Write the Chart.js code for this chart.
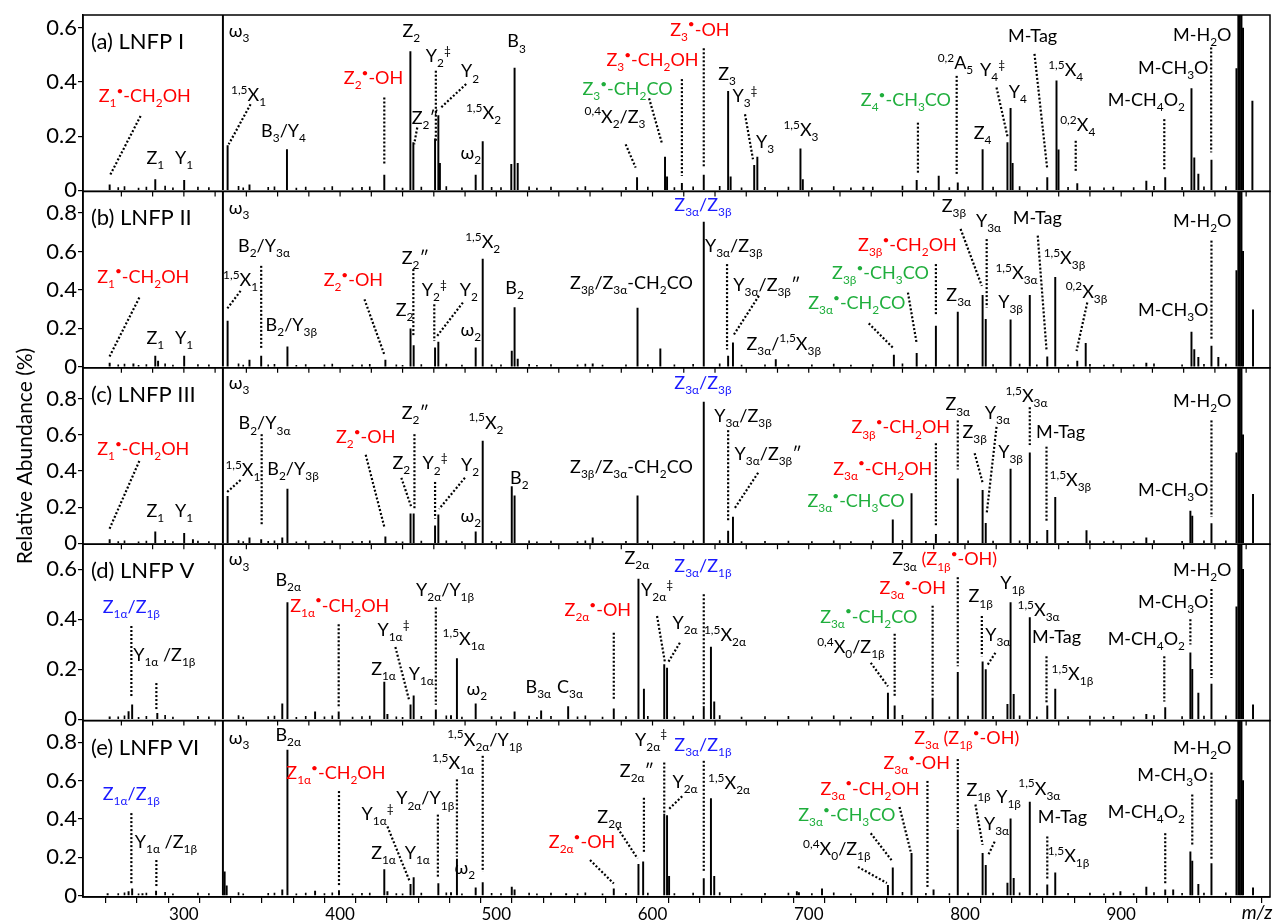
<!DOCTYPE html>
<html>
<head>
<meta charset="utf-8">
<script src="https://cdn.jsdelivr.net/npm/chart.js@4.4.0/dist/chart.umd.min.js"></script>
<style>
  html, body { margin: 0; padding: 0; background: #fff; }
  canvas { display: block; }
</style>
</head>
<body>
<canvas id="spectra" width="1274" height="923"></canvas>
<script>
// peak lists, m/z and relative abundance (%), one pair per panel
const mzA = [252.5, 281.7, 300.2, 325.0, 328.0, 342.0, 366.0, 428.3, 445.0, 446.9, 460.8, 462.9, 463.9, 486.8, 491.3, 509.6, 511.7, 513.7, 590.1, 608.0, 609.3, 618.8, 632.8, 648.4, 650.0, 665.1, 667.1, 694.7, 696.2, 735.0, 769.1, 783.2, 795.4, 811.3, 827.2, 829.2, 830.5, 852.7, 858.6, 859.9, 871.9, 916.1, 928.2, 945.0, 946.8, 949.4, 957.8, 973.8, 975.0, 976.0, 977.0, 978.0, 984.0];
const abA = [0.020, 0.040, 0.037, 1.5, 0.165, 0.020, 0.151, 0.056, 0.513, 0.176, 0.190, 0.276, 0.100, 0.056, 0.180, 0.096, 0.452, 0.100, 0.047, 0.123, 0.050, 0.026, 0.056, 0.366, 0.050, 0.092, 0.123, 0.153, 0.040, 0.012, 0.037, 0.053, 0.028, 0.151, 0.176, 0.303, 0.100, 0.047, 0.405, 0.150, 0.025, 0.034, 0.047, 0.376, 0.120, 0.060, 0.112, 0.450, 1.5, 1.5, 1.5, 0.600, 0.330];

const mzB = [252.5, 267.7, 281.7, 283.5, 300.2, 325.0, 328.0, 342.0, 349.5, 366.3, 429.0, 445.1, 447.1, 460.8, 462.9, 486.8, 491.3, 509.9, 511.7, 513.7, 561.7, 590.4, 605.0, 632.8, 648.4, 651.5, 678.9, 754.5, 769.1, 781.4, 795.4, 811.3, 813.3, 829.2, 841.5, 852.7, 857.8, 871.9, 877.3, 916.1, 945.0, 946.8, 949.4, 957.8, 962.2, 973.8, 975.0, 976.0, 977.0, 978.0, 984.4];
const abB = [0.020, 0.015, 0.056, 0.030, 0.056, 1.5, 0.238, 0.035, 0.056, 0.104, 0.035, 0.198, 0.111, 0.099, 0.129, 0.099, 0.560, 0.082, 0.308, 0.040, 0.015, 0.305, 0.094, 0.752, 0.056, 0.125, 0.038, 0.061, 0.070, 0.212, 0.285, 0.372, 0.247, 0.244, 0.372, 0.052, 0.465, 0.030, 0.122, 0.020, 0.181, 0.090, 0.050, 0.108, 0.050, 0.500, 1.5, 1.5, 1.5, 0.600, 0.296];

const mzC = [252.5, 281.7, 300.2, 305.8, 325.0, 328.0, 342.0, 349.5, 363.0, 366.3, 429.0, 445.1, 447.1, 460.8, 462.9, 486.8, 491.3, 509.9, 511.7, 561.7, 590.4, 632.8, 648.4, 651.5, 753.8, 765.8, 781.4, 795.4, 811.3, 813.3, 829.2, 841.5, 852.7, 857.8, 877.8, 916.1, 944.3, 945.5, 957.8, 973.8, 975.0, 976.0, 977.0, 978.0, 984.4];
const abC = [0.020, 0.064, 0.055, 0.020, 1.5, 0.260, 0.030, 0.020, 0.030, 0.300, 0.036, 0.163, 0.163, 0.096, 0.158, 0.063, 0.565, 0.313, 0.263, 0.030, 0.263, 0.780, 0.067, 0.145, 0.130, 0.275, 0.050, 0.357, 0.293, 0.110, 0.410, 0.500, 0.072, 0.254, 0.070, 0.030, 0.178, 0.150, 0.109, 0.500, 1.5, 1.5, 1.5, 0.600, 0.270];

const mzD = [252.5, 264.6, 266.9, 283.0, 325.0, 363.0, 366.3, 384.0, 399.1, 428.3, 430.3, 445.1, 447.1, 461.3, 471.0, 474.8, 486.8, 511.7, 528.7, 546.0, 575.2, 591.0, 594.5, 607.5, 609.3, 632.8, 637.4, 639.5, 750.7, 755.0, 779.3, 795.4, 811.3, 813.3, 827.2, 829.2, 831.2, 841.5, 852.7, 857.8, 916.1, 928.2, 944.3, 945.5, 949.4, 957.8, 973.8, 975.0, 976.0, 977.0, 978.0, 984.4];
const abD = [0.010, 0.031, 0.058, 0.024, 1.5, 0.062, 0.467, 0.030, 0.030, 0.149, 0.020, 0.058, 0.094, 0.038, 0.015, 0.243, 0.062, 0.030, 0.034, 0.051, 0.042, 0.561, 0.121, 0.219, 0.205, 0.051, 0.289, 0.070, 0.105, 0.054, 0.085, 0.188, 0.230, 0.199, 0.060, 0.467, 0.100, 0.407, 0.054, 0.121, 0.020, 0.047, 0.266, 0.200, 0.105, 0.141, 0.450, 1.5, 1.5, 1.5, 0.600, 0.058];

const mzE = [251.2, 264.6, 266.9, 273.5, 282.2, 325.0, 326.1, 327.4, 363.0, 366.3, 384.0, 399.3, 428.3, 430.3, 445.1, 447.1, 462.9, 471.0, 474.8, 486.8, 491.3, 509.9, 511.7, 544.7, 575.2, 591.0, 594.0, 607.5, 609.3, 610.6, 632.8, 637.4, 639.5, 692.4, 693.7, 708.5, 750.7, 753.8, 765.8, 779.9, 795.4, 811.3, 813.3, 827.2, 829.2, 831.2, 841.5, 852.7, 857.8, 899.5, 916.1, 928.2, 933.3, 944.3, 945.5, 949.4, 957.8, 973.8, 975.0, 976.0, 977.0, 978.0, 984.4];
const abE = [0.010, 0.020, 0.035, 0.010, 0.023, 1.5, 0.123, 0.050, 0.030, 0.759, 0.023, 0.026, 0.135, 0.020, 0.058, 0.093, 0.062, 0.015, 0.190, 0.040, 0.067, 0.044, 0.030, 0.010, 0.035, 0.163, 0.176, 0.425, 0.417, 0.100, 0.088, 0.506, 0.100, 0.020, 0.015, 0.035, 0.053, 0.144, 0.220, 0.030, 0.343, 0.220, 0.158, 0.065, 0.400, 0.090, 0.487, 0.056, 0.118, 0.020, 0.044, 0.030, 0.030, 0.228, 0.180, 0.058, 0.167, 0.500, 1.5, 1.5, 1.5, 0.600, 0.040];

// low-level baseline peaks common to all spectra
const grassMz = [258, 262, 271, 276, 288, 293, 309, 316, 335, 338, 354, 358, 372, 378, 390, 395, 408, 414, 419, 436, 440, 452, 468, 478, 497, 503, 521, 526, 535, 552, 557, 568, 583, 597, 614, 626, 643, 657, 672, 687, 702, 716, 727, 741, 760, 775, 790, 802, 818, 835, 846, 866, 880, 889, 895, 908, 921, 939, 953, 967];
const grassAb = [0.010, 0.014, 0.008, 0.012, 0.016, 0.009, 0.012, 0.010, 0.015, 0.009, 0.011, 0.013, 0.008, 0.012, 0.010, 0.014, 0.009, 0.011, 0.013, 0.010, 0.008, 0.012, 0.014, 0.009, 0.011, 0.010, 0.013, 0.008, 0.012, 0.010, 0.014, 0.009, 0.011, 0.012, 0.010, 0.013, 0.015, 0.009, 0.011, 0.012, 0.010, 0.014, 0.009, 0.012, 0.016, 0.011, 0.010, 0.013, 0.012, 0.014, 0.010, 0.011, 0.013, 0.009, 0.012, 0.010, 0.015, 0.011, 0.013, 0.014];

const yTicksA = [0, 0.2, 0.4, 0.6];
const yTicks8 = [0, 0.2, 0.4, 0.6, 0.8];
const xLabels = [300, 400, 500, 600, 700, 800, 900];
const titles = ['(a) LNFP I', '(b) LNFP II', '(c) LNFP III', '(d) LNFP V', '(e) LNFP VI'];

// annotations: [text, m/z, abundance, colour, leader [mz1, ab1, mz2, ab2], align]
const labelsA = [
  ['ω_{3}', 328.7, 0.565, 'k', null, 'L'],
  ['Z_{1}^{•}-CH_{2}OH', 275, 0.327, 'r', [272.3, 0.275, 252.5, 0.053]],
  ['Z_{1}', 281.7, 0.096, 'k'],
  ['Y_{1}', 300.2, 0.096, 'k'],
  ['^{1,5}X_{1}', 341.4, 0.331, 'k', [342.7, 0.318, 328.7, 0.17]],
  ['B_{3}/Y_{4}', 363.8, 0.198, 'k'],
  ['Z_{2}^{•}-OH', 421.4, 0.393, 'r', [428.3, 0.343, 428.3, 0.096]],
  ['Z_{2}', 445.6, 0.565, 'k'],
  ['Z_{2}″', 454.5, 0.244, 'k', [449.4, 0.232, 447.4, 0.17]],
  ['Y_{2}^{‡}', 462.9, 0.473, 'k', [461.3, 0.442, 461.3, 0.183]],
  ['Y_{2}', 483.2, 0.417, 'k', [480.7, 0.393, 463.9, 0.302]],
  ['^{1,5}X_{2}', 491.8, 0.263, 'k'],
  ['ω_{2}', 483.7, 0.115, 'k'],
  ['B_{3}', 513, 0.528, 'k'],
  ['^{0,4}X_{2}/Z_{3}', 576, 0.25, 'k', [582.8, 0.17, 589.2, 0.084]],
  ['Z_{3}^{•}-CH_{2}CO', 584, 0.352, 'g', [597.8, 0.34, 606.2, 0.17]],
  ['Z_{3}^{•}-CH_{2}OH', 600, 0.46, 'r', [618.8, 0.411, 618.8, 0.053]],
  ['Z_{3}^{•}-OH', 630.3, 0.572, 'r', [632.8, 0.525, 632.8, 0.084]],
  ['Z_{3}', 647.7, 0.409, 'k'],
  ['Y_{3}^{‡}', 659.2, 0.325, 'k', [659.2, 0.281, 664.3, 0.115]],
  ['Y_{3}', 672, 0.158, 'k'],
  ['^{1,5}X_{3}', 695, 0.201, 'k'],
  ['Z_{4}^{•}-CH_{3}CO', 762.2, 0.312, 'g', [769.9, 0.25, 769.9, 0.065]],
  ['^{0,2}A_{5}', 793.9, 0.448, 'k', [794.7, 0.423, 794.7, 0.059]],
  ['Z_{4}', 811.3, 0.189, 'k'],
  ['Y_{4}^{‡}', 817.7, 0.423, 'k', [820.2, 0.38, 827.2, 0.2]],
  ['Y_{4}', 833.8, 0.343, 'k'],
  ['M-Tag', 843.3, 0.547, 'k', [844.5, 0.504, 852.7, 0.078]],
  ['^{1,5}X_{4}', 864.5, 0.423, 'k'],
  ['^{0,2}X_{4}', 872.2, 0.22, 'k', [870.9, 0.183, 870.9, 0.065]],
  ['M-CH_{4}O_{2}', 916.1, 0.312, 'k', [927.6, 0.263, 927.6, 0.072]],
  ['M-CH_{3}O', 933.3, 0.43, 'k'],
  ['M-H_{2}O', 951.9, 0.553, 'k', [957.6, 0.528, 957.6, 0.14]]
];
const labelsB = [
  ['ω_{3}', 328.7, 0.795, 'k', null, 'L'],
  ['Z_{1}^{•}-CH_{2}OH', 274, 0.438, 'r', [271.5, 0.36, 252, 0.047]],
  ['Z_{1}', 281.7, 0.117, 'k'],
  ['Y_{1}', 300.2, 0.117, 'k'],
  ['^{1,5}X_{1}', 336.3, 0.421, 'k', [336.3, 0.395, 327.4, 0.299]],
  ['B_{2}/Y_{3α}', 351.3, 0.595, 'k', [349.5, 0.525, 349.5, 0.09]],
  ['B_{2}/Y_{3β}', 368.8, 0.186, 'k'],
  ['Z_{2}^{•}-OH', 408.5, 0.421, 'r', [415.6, 0.351, 428.3, 0.064]],
  ['Z_{2}″', 448.1, 0.534, 'k', [446.9, 0.508, 446.9, 0.16]],
  ['Z_{2}', 441.3, 0.264, 'k'],
  ['Y_{2}^{‡}', 460.3, 0.369, 'k', [460.3, 0.325, 460.3, 0.134]],
  ['Y_{2}', 482.4, 0.369, 'k', [478.6, 0.334, 462.1, 0.16]],
  ['^{1,5}X_{2}', 491.3, 0.616, 'k'],
  ['ω_{2}', 483.7, 0.16, 'k'],
  ['B_{2}', 511.7, 0.377, 'k'],
  ['Z_{3β}/Z_{3α}-CH_{2}CO', 586.5, 0.403, 'k'],
  ['Z_{3α}/Z_{3β}', 632.3, 0.812, 'b'],
  ['Y_{3α}/Z_{3β}', 652, 0.595, 'k', [647.7, 0.534, 647.7, 0.09]],
  ['Y_{3α}/Z_{3β}″', 673.2, 0.395, 'k', [668.1, 0.369, 651.5, 0.16]],
  ['Z_{3α}/^{1,5}X_{3β}', 684, 0.09, 'k'],
  ['Z_{3β}^{•}-CH_{2}OH', 763.2, 0.603, 'r', [781.4, 0.534, 781.4, 0.264]],
  ['Z_{3β}^{•}-CH_{3}CO', 745.9, 0.456, 'g', [763.5, 0.386, 769.1, 0.122]],
  ['Z_{3α}^{•}-CH_{2}CO', 730.8, 0.299, 'g', [738.4, 0.226, 753.8, 0.1]],
  ['Z_{3α}', 796, 0.343, 'k'],
  ['Z_{3β}', 792.9, 0.803, 'k', [797.2, 0.717, 810.8, 0.421]],
  ['Y_{3α}', 815.1, 0.725, 'k', [813.9, 0.664, 813.9, 0.308]],
  ['M-Tag', 846.3, 0.743, 'k', [846.6, 0.682, 852.2, 0.09]],
  ['^{1,5}X_{3α}', 833, 0.456, 'k'],
  ['Y_{3β}', 829.2, 0.308, 'k'],
  ['^{1,5}X_{3β}', 863.7, 0.534, 'k'],
  ['^{0,2}X_{3β}', 877.8, 0.36, 'k', [878.3, 0.334, 871.4, 0.082]],
  ['M-CH_{3}O', 933.3, 0.264, 'k'],
  ['M-H_{2}O', 951.9, 0.725, 'k', [957.8, 0.656, 957.8, 0.143]]
];
const labelsC = [
  ['ω_{3}', 328.7, 0.851, 'k', null, 'L'],
  ['Z_{1}^{•}-CH_{2}OH', 274, 0.489, 'r', [271.5, 0.455, 252, 0.072]],
  ['Z_{1}', 281.7, 0.145, 'k'],
  ['Y_{1}', 300.2, 0.145, 'k'],
  ['^{1,5}X_{1}', 337.8, 0.371, 'k', [336.3, 0.35, 327.4, 0.281]],
  ['B_{2}/Y_{3α}', 351.6, 0.629, 'k', [349.8, 0.603, 349.8, 0.1]],
  ['B_{2}/Y_{3β}', 369.9, 0.375, 'k'],
  ['Z_{2}^{•}-OH', 416.4, 0.553, 'r', [416.4, 0.489, 428.3, 0.091]],
  ['Z_{2}″', 448.1, 0.688, 'k', [447.6, 0.603, 447.6, 0.194]],
  ['Z_{2}', 439.2, 0.411, 'k', [439.2, 0.362, 445.6, 0.2]],
  ['Y_{2}^{‡}', 460.8, 0.408, 'k', [460.8, 0.339, 460.8, 0.136]],
  ['Y_{2}', 483.2, 0.399, 'k', [479.9, 0.362, 463.4, 0.19]],
  ['^{1,5}X_{2}', 493.4, 0.634, 'k'],
  ['ω_{2}', 483.7, 0.118, 'k'],
  ['B_{2}', 514.7, 0.326, 'k'],
  ['Z_{3β}/Z_{3α}-CH_{2}CO', 586.5, 0.39, 'k'],
  ['Z_{3α}/Z_{3β}', 632.3, 0.851, 'b'],
  ['Y_{3α}/Z_{3β}', 657.9, 0.67, 'k', [648.4, 0.625, 648.4, 0.118]],
  ['Y_{3α}/Z_{3β}″', 674, 0.462, 'k', [667.6, 0.39, 652.3, 0.19]],
  ['Z_{3β}^{•}-CH_{2}OH', 758.9, 0.607, 'r', [781.4, 0.553, 781.4, 0.1]],
  ['Z_{3α}^{•}-CH_{2}OH', 747.4, 0.38, 'r'],
  ['Z_{3α}^{•}-CH_{3}CO', 730.3, 0.199, 'g'],
  ['Z_{3α}', 795.4, 0.734, 'k', [795.4, 0.679, 795.4, 0.408]],
  ['Z_{3β}', 806.2, 0.58, 'k', [806.2, 0.498, 811.3, 0.335]],
  ['Y_{3α}', 820.8, 0.688, 'k', [820.2, 0.643, 813.9, 0.163]],
  ['^{1,5}X_{3α}', 839.4, 0.779, 'k', [841.5, 0.752, 841.5, 0.543]],
  ['Y_{3β}', 829.2, 0.471, 'k'],
  ['M-Tag', 861.2, 0.58, 'k', [852.2, 0.534, 852.2, 0.118]],
  ['^{1,5}X_{3β}', 867.5, 0.317, 'k'],
  ['M-CH_{3}O', 933.3, 0.263, 'k'],
  ['M-H_{2}O', 951.9, 0.752, 'k', [957.8, 0.679, 957.8, 0.145]]
];
const labelsD = [
  ['ω_{3}', 328.7, 0.615, 'k', null, 'L'],
  ['Z_{1α}/Z_{1β}', 266.4, 0.427, 'b', [266.4, 0.373, 266.4, 0.091]],
  ['Y_{1α} /Z_{1β}', 287.5, 0.235, 'k', [282.4, 0.145, 282.4, 0.038]],
  ['B_{2α}', 366.8, 0.534, 'k'],
  ['Z_{1α}^{•}-CH_{2}OH', 399.8, 0.431, 'r', [399.1, 0.38, 399.1, 0.044]],
  ['Y_{1α}^{‡}', 434.2, 0.333, 'k', [435.4, 0.289, 444.3, 0.074]],
  ['Z_{1α}', 427.8, 0.179, 'k'],
  ['Y_{1α}', 452, 0.158, 'k'],
  ['Y_{2α}/Y_{1β}', 467.2, 0.494, 'k', [461.3, 0.447, 461.3, 0.058]],
  ['^{1,5}X_{1α}', 479.1, 0.299, 'k'],
  ['ω_{2}', 487.5, 0.098, 'k'],
  ['B_{3α}', 526.9, 0.105, 'k'],
  ['C_{3α}', 547.2, 0.105, 'k'],
  ['Z_{2α}^{•}-OH', 565, 0.413, 'r', [575.2, 0.346, 575.2, 0.078]],
  ['Z_{2α}', 590, 0.621, 'k'],
  ['Y_{2α}^{‡}', 602.9, 0.494, 'k', [602.9, 0.413, 608, 0.226]],
  ['Y_{2α}', 620.8, 0.36, 'k', [617.5, 0.306, 609.8, 0.226]],
  ['Z_{3α}/Z_{1β}', 632.3, 0.588, 'b', [632.8, 0.5, 632.8, 0.051]],
  ['^{1,5}X_{2α}', 646.4, 0.313, 'k'],
  ['^{0,4}X_{0}/Z_{1β}', 727, 0.266, 'k', [739.7, 0.226, 750.7, 0.132]],
  ['Z_{3α}^{•}-CH_{2}CO', 738.4, 0.387, 'g', [755, 0.342, 755, 0.091]],
  ['Z_{3α}^{•}-OH', 766.6, 0.501, 'r', [779.3, 0.454, 779.3, 0.095]],
  ['Z_{3α} ~r(Z_{1β}^{•}-OH)', 787, 0.615, 'k', [795.4, 0.568, 795.4, 0.212]],
  ['Z_{1β}', 810, 0.467, 'k', [810.8, 0.413, 810.8, 0.252]],
  ['Y_{3α}', 821, 0.313, 'k', [819.5, 0.266, 814.6, 0.219]],
  ['Y_{1β}', 830.5, 0.521, 'k'],
  ['^{1,5}X_{3α}', 847.1, 0.413, 'k'],
  ['M-Tag', 858.6, 0.306, 'k', [852.2, 0.252, 852.2, 0.064]],
  ['^{1,5}X_{1β}', 868.8, 0.158, 'k'],
  ['M-CH_{4}O_{2}', 916.1, 0.299, 'k', [927.6, 0.252, 927.6, 0.071]],
  ['M-CH_{3}O', 933.3, 0.447, 'k', [944.3, 0.4, 944.3, 0.299]],
  ['M-H_{2}O', 951.9, 0.574, 'k', [957.8, 0.521, 957.8, 0.165]]
];
const labelsE = [
  ['ω_{3}', 328.7, 0.79, 'k', null, 'L'],
  ['B_{2α}', 366.8, 0.808, 'k'],
  ['Z_{1α}/Z_{1β}', 266.4, 0.5, 'b', [266.4, 0.43, 266.4, 0.062]],
  ['Y_{1α} /Z_{1β}', 288.5, 0.246, 'k', [282.4, 0.185, 282.4, 0.047]],
  ['Z_{1α}^{•}-CH_{2}OH', 397.3, 0.606, 'r', [399.3, 0.545, 399.3, 0.053]],
  ['Y_{1α}^{‡}', 424, 0.395, 'k', [430.3, 0.36, 444.3, 0.079]],
  ['Y_{2α}/Y_{1β}', 454.5, 0.475, 'k', [462.6, 0.422, 462.6, 0.088]],
  ['Z_{1α}', 427.8, 0.193, 'k'],
  ['Y_{1α}', 449.4, 0.193, 'k'],
  ['^{1,5}X_{1α}', 472.3, 0.659, 'k', [474.8, 0.606, 474.8, 0.202]],
  ['^{1,5}X_{2α}/Y_{1β}', 492.6, 0.782, 'k', [491.3, 0.729, 491.3, 0.123]],
  ['ω_{2}', 479.9, 0.114, 'k'],
  ['Z_{2α}^{•}-OH', 554.9, 0.246, 'r', [560, 0.185, 575.2, 0.062]],
  ['Z_{2α}', 572.6, 0.378, 'k', [577.7, 0.351, 590.4, 0.193]],
  ['Z_{2α}″', 590, 0.62, 'k', [594.5, 0.51, 594.5, 0.22]],
  ['Y_{2α}^{‡}', 599.1, 0.782, 'k', [607.5, 0.694, 607.5, 0.431]],
  ['Y_{2α}', 620.8, 0.562, 'k', [619, 0.518, 610.1, 0.448]],
  ['Z_{3α}/Z_{1β}', 632.3, 0.756, 'b', [632.8, 0.703, 632.8, 0.123]],
  ['^{1,5}X_{2α}', 649, 0.554, 'k'],
  ['Z_{3α} (Z_{1β}^{•}-OH)', 801.1, 0.79, 'r', [795.4, 0.712, 795.4, 0.351]],
  ['Z_{3α}^{•}-OH', 769.1, 0.659, 'r', [776, 0.598, 776, 0.044]],
  ['Z_{3α}^{•}-CH_{2}OH', 739.2, 0.527, 'r', [758.1, 0.462, 765.3, 0.228]],
  ['Z_{3α}^{•}-CH_{3}CO', 724.4, 0.387, 'g', [739.7, 0.325, 753.8, 0.176]],
  ['^{0,4}X_{0}/Z_{1β}', 718, 0.211, 'k', [731.5, 0.149, 750, 0.065]],
  ['Z_{1β}', 808.7, 0.518, 'k', [806.7, 0.475, 811.3, 0.264]],
  ['Y_{3α}', 820.2, 0.343, 'k', [819, 0.281, 814.6, 0.206]],
  ['Y_{1β}', 827.9, 0.483, 'k'],
  ['^{1,5}X_{3α}', 847.6, 0.527, 'k'],
  ['M-Tag', 862.4, 0.378, 'k', [852.7, 0.308, 852.7, 0.088]],
  ['^{1,5}X_{1β}', 866.3, 0.176, 'k'],
  ['M-CH_{4}O_{2}', 916.1, 0.404, 'k', [928.2, 0.325, 928.2, 0.062]],
  ['M-CH_{3}O', 932.8, 0.598, 'k', [945.5, 0.527, 945.5, 0.264]],
  ['M-H_{2}O', 951.9, 0.738, 'k', [957.8, 0.641, 957.8, 0.185]]
];

const FONT = 'Lato, "DejaVu Sans", sans-serif';
const COLORS = { k: '#000000', r: '#ff0000', g: '#1fae3c', b: '#1a1aff' };

// top to bottom
const panels = [
  { id: 'ya', mz: mzA, ab: abA, min: -0.004, max: 0.648, ticks: yTicksA, labels: labelsA },
  { id: 'yb', mz: mzB, ab: abB, min: -0.005, max: 0.912, ticks: yTicks8, labels: labelsB },
  { id: 'yc', mz: mzC, ab: abC, min: -0.005, max: 0.97, ticks: yTicks8, labels: labelsC },
  { id: 'yd', mz: mzD, ab: abD, min: -0.005, max: 0.70, ticks: yTicksA, labels: labelsD },
  { id: 'ye', mz: mzE, ab: abE, min: -0.008, max: 0.913, ticks: yTicks8, labels: labelsE }
];

// small markup: _{sub} ^{sup} ~r colour switch
function parseRich(str, col) {
  const out = [];
  let i = 0, buf = '', c = COLORS[col];
  const flush = () => { if (buf) { out.push({ t: buf, k: 0, c }); buf = ''; } };
  while (i < str.length) {
    const ch = str[i];
    if ((ch === '_' || ch === '^') && str[i + 1] === '{') {
      flush();
      const j = str.indexOf('}', i);
      out.push({ t: str.slice(i + 2, j), k: ch === '_' ? 1 : 2, c });
      i = j + 1;
    } else if (ch === '~') {
      flush();
      c = COLORS[str[i + 1]];
      i += 2;
    } else {
      buf += ch;
      i++;
    }
  }
  flush();
  return out;
}

function drawRich(ctx, str, x, y, size, col, align) {
  const parts = parseRich(str, col);
  let w = 0;
  parts.forEach(p => {
    p.s = p.k ? size * 0.66 : size;
    ctx.font = p.s + 'px ' + FONT;
    p.w = ctx.measureText(p.t).width;
    w += p.w;
  });
  let cx = align === 'L' ? x : x - w / 2;
  ctx.textAlign = 'left';
  ctx.textBaseline = 'alphabetic';
  parts.forEach(p => {
    ctx.font = p.s + 'px ' + FONT;
    ctx.fillStyle = p.c;
    const dy = p.k === 1 ? size * 0.28 : p.k === 2 ? -size * 0.4 : 0;
    ctx.fillText(p.t, cx, y + dy);
    cx += p.w;
  });
}

const panelPlugin = {
  id: 'panelPlugin',
  beforeDatasetDraw(chart, args) {
    const ds = chart.data.datasets[args.index];
    const s = chart.scales[ds.yAxisID];
    const a = chart.chartArea;
    chart.ctx.save();
    chart.ctx.beginPath();
    chart.ctx.rect(a.left, s.top, a.right - a.left, s.bottom - s.top);
    chart.ctx.clip();
  },
  afterDatasetDraw(chart) {
    chart.ctx.restore();
  },
  afterDraw(chart) {
    const ctx = chart.ctx, a = chart.chartArea, xs = chart.scales.x;
    ctx.save();
    panels.forEach((p, i) => {
      const ys = chart.scales[p.id];
      ctx.setLineDash([]);
      ctx.strokeStyle = '#000';
      ctx.lineWidth = 1.5;
      ctx.strokeRect(a.left, ys.top, a.right - a.left, ys.bottom - ys.top);
      if (i < panels.length - 1) {
        ctx.lineWidth = 1.2;
        ctx.beginPath();
        xs.ticks.forEach(t => {
          const x = xs.getPixelForValue(t.value);
          ctx.moveTo(x, ys.bottom);
          ctx.lineTo(x, ys.bottom + 5);
        });
        ctx.stroke();
      }
      drawRich(ctx, titles[i], a.left + 8, ys.top + 34, 22, 'k', 'L');
      p.labels.forEach(l => {
        const [t, m, v, col, ld, al] = l;
        if (ld) {
          ctx.save();
          ctx.setLineDash([2, 2]);
          ctx.lineWidth = 2.2;
          ctx.strokeStyle = '#000';
          ctx.beginPath();
          ctx.moveTo(xs.getPixelForValue(ld[0]), ys.getPixelForValue(ld[1]));
          ctx.lineTo(xs.getPixelForValue(ld[2]), ys.getPixelForValue(ld[3]));
          ctx.stroke();
          ctx.restore();
        }
        drawRich(ctx, t, xs.getPixelForValue(m), ys.getPixelForValue(v), 18, col, al);
      });
    });
    ctx.fillStyle = '#000';
    ctx.font = 'italic 19px ' + FONT;
    ctx.textAlign = 'center';
    ctx.textBaseline = 'middle';
    ctx.fillText('m/z', 1257, 913);
    ctx.translate(25, (a.top + a.bottom) / 2);
    ctx.rotate(-Math.PI / 2);
    ctx.font = '21px ' + FONT;
    ctx.fillText('Relative Abundance (%)', 0, 0);
    ctx.restore();
  }
};

const datasets = [];
const scales = {
  x: {
    type: 'linear', position: 'bottom', min: 245.7, max: 985,
    ticks: {
      stepSize: 20, autoSkip: false, maxRotation: 0, includeBounds: false, padding: 1,
      color: '#000', font: { family: FONT, size: 17 },
      callback: v => xLabels.includes(v) ? String(v) : ''
    },
    grid: { drawOnChartArea: false, color: '#000', tickLength: 6, lineWidth: 1.2 },
    border: { color: '#000', width: 1.5 },
    afterFit(s) { s.height = 26; }
  }
};

panels.forEach(p => {
  datasets.push({
    type: 'bar', yAxisID: p.id, grouped: false, barThickness: 1.3,
    backgroundColor: '#000', borderWidth: 0,
    data: p.mz.map((m, i) => ({ x: m, y: p.ab[i] }))
  });
  datasets.push({
    type: 'bar', yAxisID: p.id, grouped: false, barThickness: 1,
    backgroundColor: '#000', borderWidth: 0,
    data: grassMz.map((m, i) => ({ x: m, y: grassAb[i] }))
  });
});

// stacked axes are laid out bottom-up, so register the lowest panel first
panels.slice().reverse().forEach(p => {
  scales[p.id] = {
    type: 'linear', position: 'left', stack: 'spectra', stackWeight: 1,
    min: p.min, max: p.max,
    afterBuildTicks(s) { s.ticks = p.ticks.map(v => ({ value: v })); },
    ticks: {
      autoSkip: false,
      color: '#000', font: { family: FONT, size: 22 }, padding: 1,
      callback: v => v === 0 ? '0' : v.toFixed(1)
    },
    grid: { drawOnChartArea: false, color: '#000', tickLength: 5, lineWidth: 1.2 },
    border: { color: '#000', width: 1.5 },
    afterFit(s) { s.width = 83; }
  };
});

new Chart(document.getElementById('spectra'), {
  type: 'bar',
  data: { datasets },
  options: {
    responsive: false,
    animation: false,
    devicePixelRatio: 1,
    layout: { padding: { top: 15, right: 4, left: 0, bottom: 0 } },
    plugins: { legend: { display: false }, tooltip: { enabled: false } },
    scales
  },
  plugins: [panelPlugin]
});
</script>
</body>
</html>
